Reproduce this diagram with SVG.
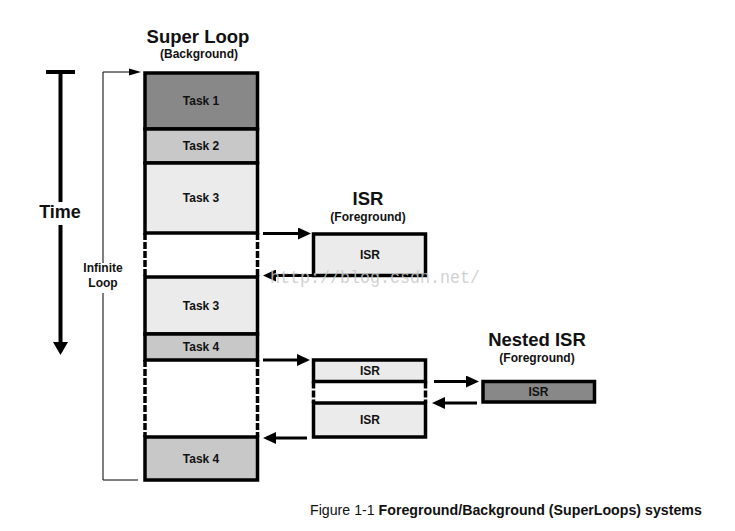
<svg xmlns="http://www.w3.org/2000/svg" width="735" height="531" viewBox="0 0 735 531">
<defs>
<style>
text{font-family:"Liberation Sans",Arial,sans-serif;font-weight:bold;fill:#111;text-anchor:middle}
.t{font-size:12px}
.h{font-size:18.5px}
.box{stroke:#000;stroke-width:3.5}
.d1{fill:#888888}.d2{fill:#c8c8c8}.d3{fill:#ebebeb}
.dash{stroke:#000;stroke-width:3.5;stroke-dasharray:7 2;fill:none}
.arr{stroke:#000;stroke-width:3;fill:none;marker-end:url(#ah)}
.thin{stroke:#000;stroke-width:1;fill:none}
</style>
<marker id="ah" markerUnits="userSpaceOnUse" markerWidth="14" markerHeight="12" refX="3" refY="6" orient="auto">
<path d="M0,0 L13,6 L0,12 Z" fill="#000"/>
</marker>
</defs>
<rect width="735" height="531" fill="#fff"/>

<g id="titles">
<text class="h" x="198" y="43">Super Loop</text>
<text class="t" x="199" y="58">(Background)</text>
<text class="h" x="368" y="205">ISR</text>
<text class="t" x="368" y="221">(Foreground)</text>
<text class="h" x="537" y="346">Nested ISR</text>
<text class="t" x="537" y="362">(Foreground)</text>
</g>

<g id="time">
<line x1="46" y1="72" x2="75" y2="72" stroke="#000" stroke-width="4"/>
<line x1="60.5" y1="72" x2="60.5" y2="202" stroke="#000" stroke-width="4"/>
<line x1="60.5" y1="225" x2="60.5" y2="344" stroke="#000" stroke-width="4"/>
<polygon points="53,342 68,342 60.5,355" fill="#000"/>
<text x="60" y="218" style="font-size:18px">Time</text>
</g>

<g id="infinite-loop">
<path class="thin" d="M138,480 H103 V293"/>
<path class="thin" d="M103,263 V72 H130"/>
<polygon points="129,68.5 141,72 129,75.5" fill="#000"/>
<text class="t" x="103" y="272">Infinite</text>
<text class="t" x="103" y="287">Loop</text>
</g>

<g id="task1"><rect class="box d1" x="145" y="73" width="112.5" height="56"/><text class="t" x="201" y="105">Task 1</text></g>
<g id="task2"><rect class="box d2" x="145" y="129" width="112.5" height="34"/><text class="t" x="201" y="150">Task 2</text></g>
<g id="task3"><rect class="box d3" x="145" y="163" width="112.5" height="70"/><text class="t" x="201" y="202">Task 3</text></g>
<g id="gap1"><line class="dash" x1="145" y1="233" x2="145" y2="277"/><line class="dash" x1="257.5" y1="233" x2="257.5" y2="277"/></g>
<g id="task3b"><rect class="box d3" x="145" y="277" width="112.5" height="57"/><text class="t" x="201" y="309.5">Task 3</text></g>
<g id="task4"><rect class="box d2" x="145" y="334" width="112.5" height="26"/><text class="t" x="201" y="351">Task 4</text></g>
<g id="gap2"><line class="dash" x1="145" y1="360" x2="145" y2="437"/><line class="dash" x1="257.5" y1="360" x2="257.5" y2="437"/></g>
<g id="task4b"><rect class="box d2" x="145" y="437" width="112.5" height="43"/><text class="t" x="201" y="462.5">Task 4</text></g>

<g id="isr1"><rect class="box d3" x="313.5" y="234" width="112" height="41.5"/><text class="t" x="370" y="258.5">ISR</text></g>

<g id="isr2a"><rect class="box d3" x="313.5" y="360" width="112" height="21.5"/><text class="t" x="370" y="374.5">ISR</text></g>
<g id="isr2gap"><line class="dash" x1="313.5" y1="381.5" x2="313.5" y2="403"/><line class="dash" x1="425.5" y1="381.5" x2="425.5" y2="403"/></g>
<g id="isr2b"><rect class="box d3" x="313.5" y="403" width="112" height="34"/><text class="t" x="370" y="424">ISR</text></g>

<g id="nested-isr"><rect class="box d1" x="483" y="381.5" width="111.5" height="20.5"/><text class="t" x="538.5" y="395.5">ISR</text></g>

<g id="connectors">
<line class="arr" x1="263" y1="233.5" x2="301" y2="233.5"/>
<line class="arr" x1="312" y1="275.5" x2="273" y2="275.5"/>
<line class="arr" x1="263" y1="360" x2="300" y2="360"/>
<line class="arr" x1="307" y1="438" x2="273" y2="438"/>
<line class="arr" x1="434" y1="381.5" x2="469" y2="381.5"/>
<line class="arr" x1="477" y1="403" x2="442" y2="403"/>
</g>

<text x="375" y="283" style="font-family:'Liberation Mono',monospace;font-weight:normal;font-size:18px;fill:#c8c8c8;fill-opacity:0.85" textLength="210" lengthAdjust="spacingAndGlyphs">http://blog.csdn.net/</text>

<text x="310" y="515" style="font-size:14.2px;text-anchor:start"><tspan style="font-weight:normal">Figure 1-1 </tspan>Foreground/Background (SuperLoops) systems</text>
</svg>
